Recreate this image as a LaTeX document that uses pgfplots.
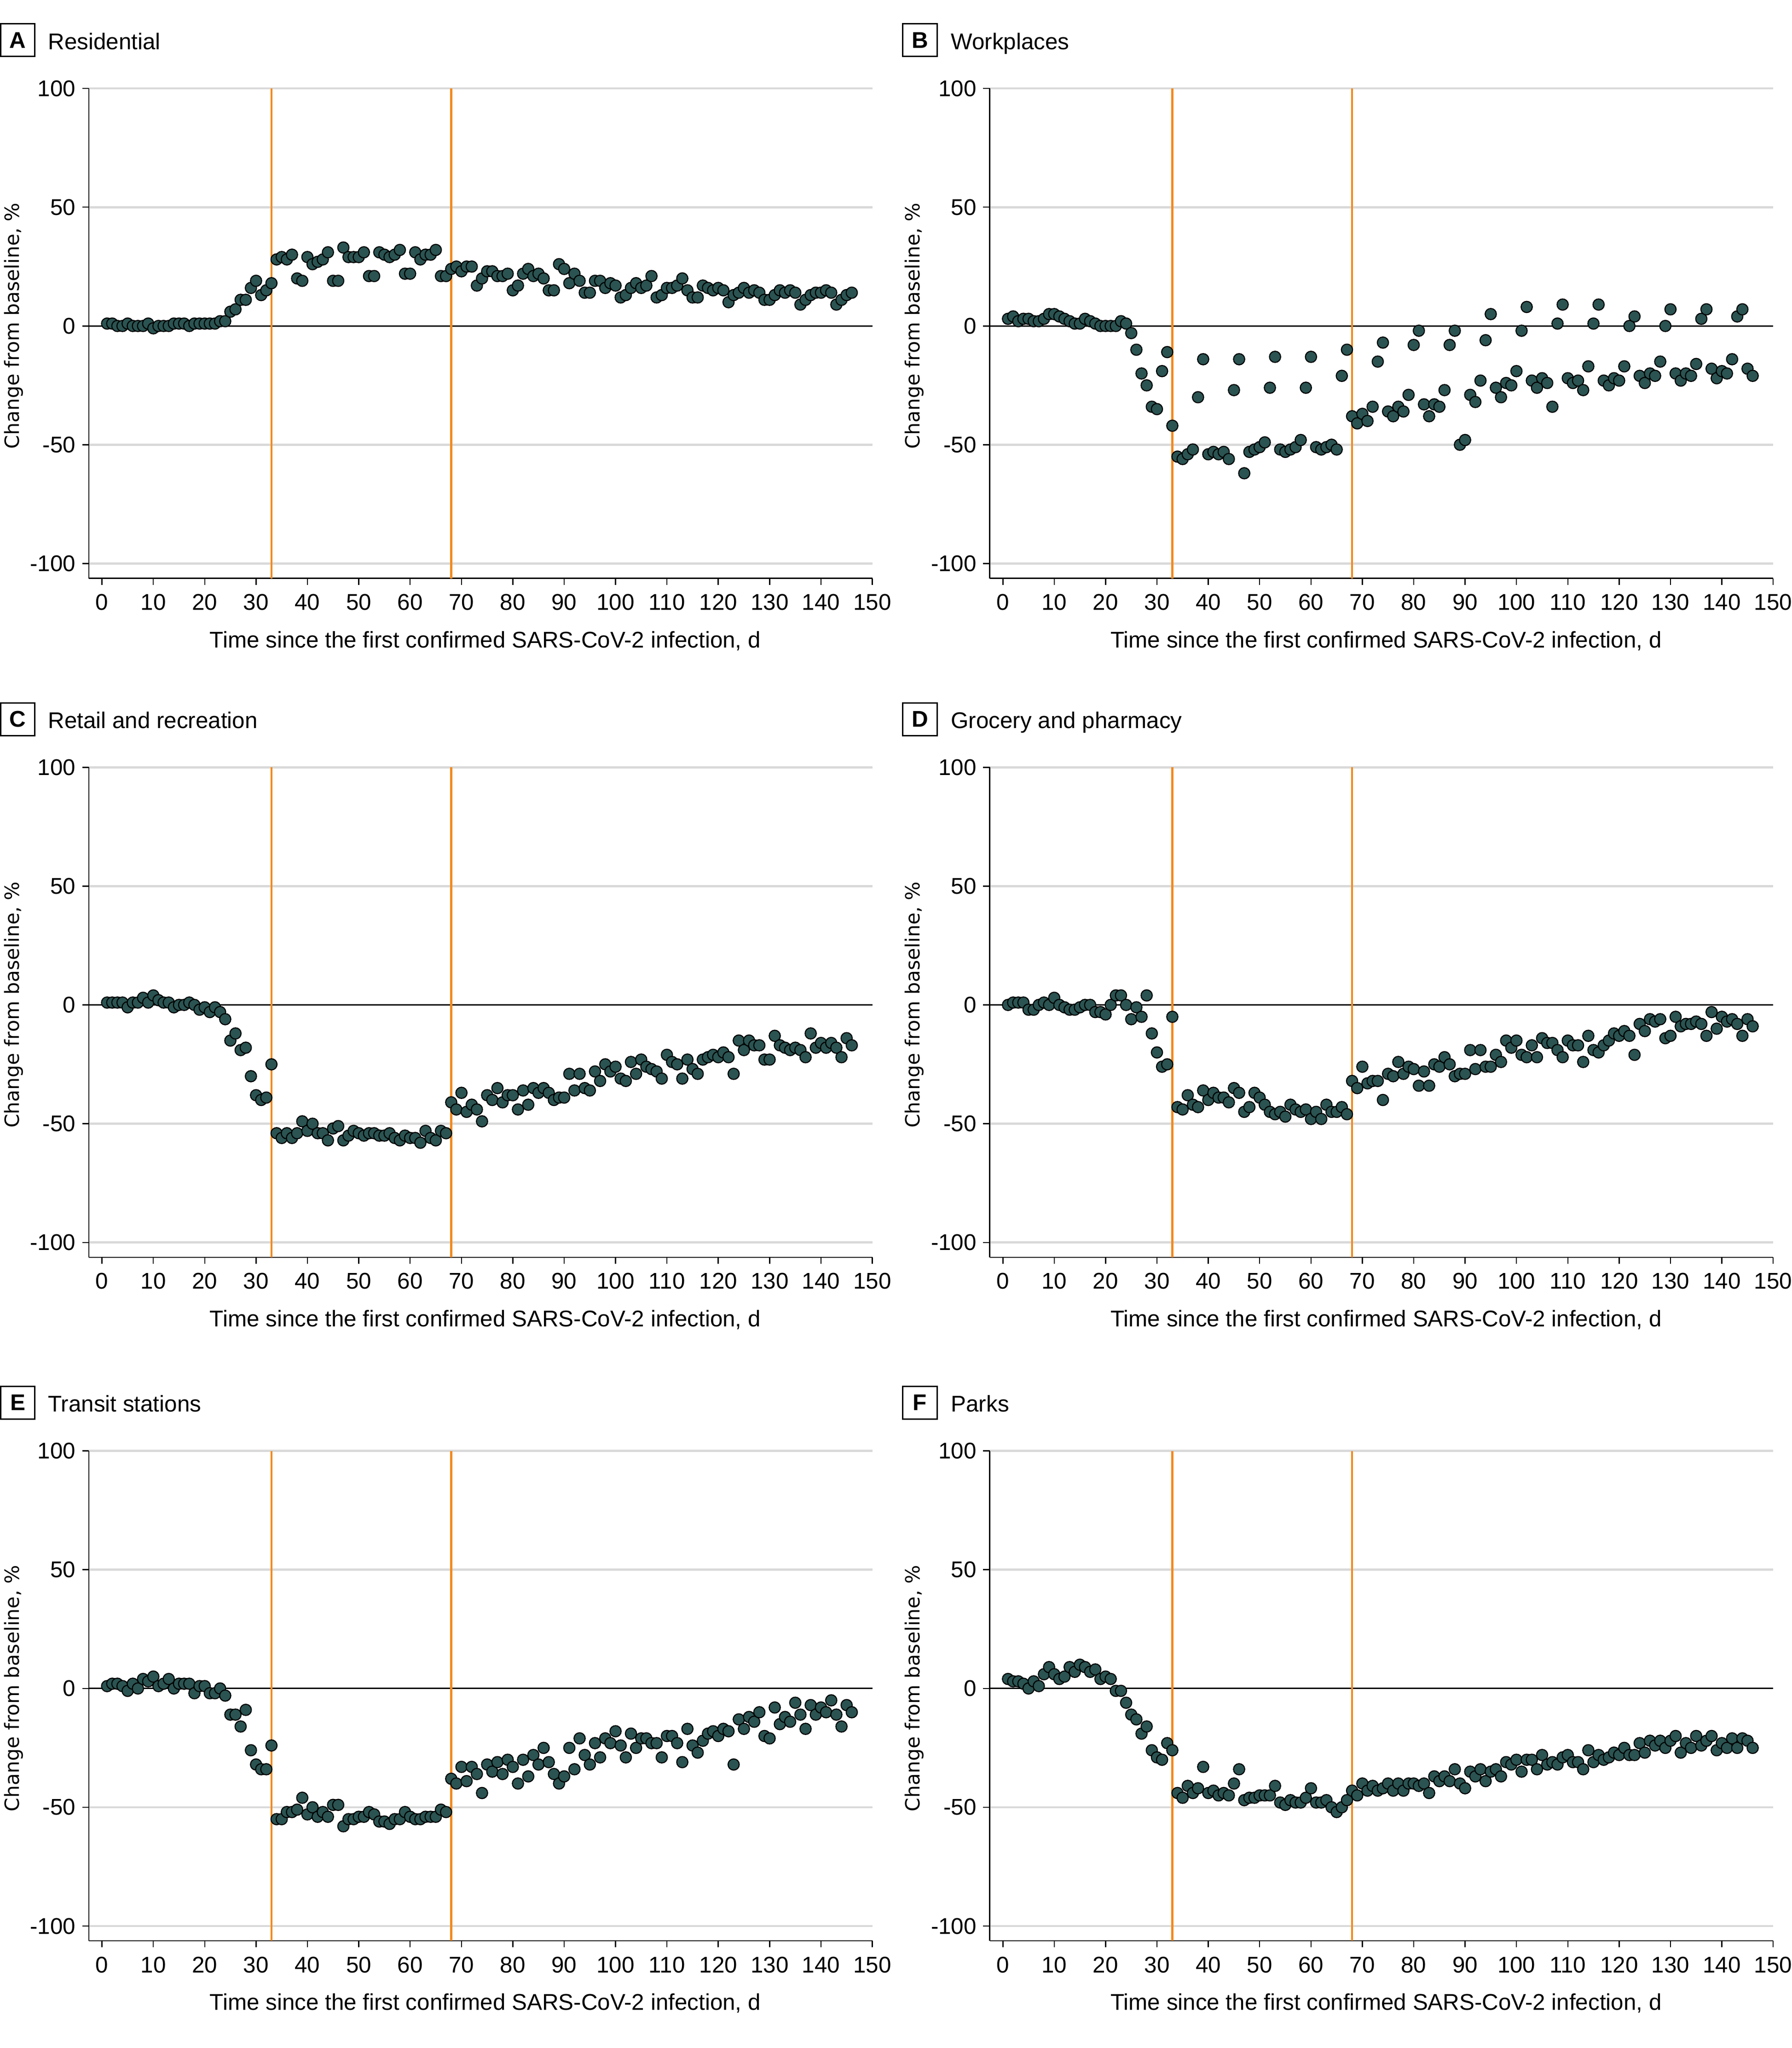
\documentclass[border=0pt]{standalone}
\usepackage{fontspec}
\setmainfont{Liberation Sans}
\newfontfamily\ylabfont{DejaVu Sans}
\usepackage{pgfplots}
\pgfplotsset{compat=1.18}
\definecolor{dot}{HTML}{2A5351}
\definecolor{lockdown}{HTML}{F28A1E}
\definecolor{gridgray}{HTML}{D9D9D9}
\newcommand{\lab}{\fontsize{8.7}{10}\selectfont}
\pgfplotsset{
  panel/.style={
    scale only axis, width=300.06pt, height=187.6pt, anchor=south west,
    xmin=-2.57, xmax=150, ymin=-106.2, ymax=100,
    axis lines*=left, axis line style={line width=0.45pt},
    tick align=outside, major tick length=2.5pt, tick style={black, line width=0.45pt},
    xtick={0,10,...,150},
    ytick={-100,-50,50,100}, yticklabels={-100,-50,50,100},
    extra y ticks={0}, extra y tick labels={0},
    ymajorgrids, major grid style={gridgray, line width=0.85pt},
    extra y tick style={major grid style={black, line width=0.5pt}},
    /pgf/number format/assume math mode=true,
    ticklabel style={font=\lab},
    xticklabel style={inner sep=0pt, anchor=north, yshift=-3.4pt},
    yticklabel style={inner sep=0pt, anchor=east, xshift=-2.35pt},
    xlabel={Time since the first confirmed SARS-CoV-2 infection, d},
    ylabel={Change from baseline, \%},
    xlabel style={font=\lab, at={(axis description cs:0.506,0)}, anchor=center, yshift=-24pt},
    ylabel style={font=\ylabfont\fontsize{7.5}{9}\selectfont, at={(axis description cs:-0.096,0.515)}, anchor=center},
  },
  dots/.style={only marks, mark=*, mark size=2.15pt, mark options={draw=none, fill=dot}},
  cut/.style={lockdown, line width=0.75pt, forget plot},
}
\newcommand{\cuts}{%
  \addplot[cut] coordinates {(33,-106.2) (33,100)};
  \addplot[cut] coordinates {(68,-106.2) (68,100)};}
\newcommand{\paneltitle}[2]{% centre of the letter box, letter
  \node[draw, line width=0.5pt, minimum width=13.1pt, minimum height=12.5pt, inner sep=0pt, font=\bfseries\lab] at (#1) {#2};}
\begin{document}
\begin{tikzpicture}
\path[use as bounding box] (0,0) rectangle (686.1pt,784.25pt);

% A Residential
\begin{axis}[panel, at={(34pt,562.8pt)}]
\addplot[dots] coordinates {(1,1)(2,1)(3,0)(4,0)(5,1)(6,0)(7,0)(8,0)(9,1)(10,-1)(11,0)(12,0)(13,0)(14,1)(15,1)(16,1)(17,0)(18,1)(19,1)(20,1)(21,1)(22,1)(23,2)(24,2)(25,6)(26,7)(27,11)(28,11)(29,16)(30,19)(31,13)(32,15)(33,18)(34,28)(35,29)(36,28)(37,30)(38,20)(39,19)(40,29)(41,26)(42,27)(43,28)(44,31)(45,19)(46,19)(47,33)(48,29)(49,29)(50,29)(51,31)(52,21)(53,21)(54,31)(55,30)(56,29)(57,30)(58,32)(59,22)(60,22)(61,31)(62,28)(63,30)(64,30)(65,32)(66,21)(67,21)(68,24)(69,25)(70,23)(71,25)(72,25)(73,17)(74,20)(75,23)(76,23)(77,21)(78,21)(79,22)(80,15)(81,17)(82,22)(83,24)(84,21)(85,22)(86,20)(87,15)(88,15)(89,26)(90,24)(91,18)(92,22)(93,19)(94,14)(95,14)(96,19)(97,19)(98,16)(99,18)(100,17)(101,12)(102,13)(103,16)(104,18)(105,16)(106,17)(107,21)(108,12)(109,13)(110,16)(111,16)(112,17)(113,20)(114,15)(115,12)(116,12)(117,17)(118,16)(119,15)(120,16)(121,15)(122,10)(123,13)(124,14)(125,16)(126,14)(127,15)(128,14)(129,11)(130,11)(131,13)(132,15)(133,14)(134,15)(135,14)(136,9)(137,11)(138,13)(139,14)(140,14)(141,15)(142,14)(143,9)(144,11)(145,13)(146,14)};
\cuts
\end{axis}

% B Workplaces
\begin{axis}[panel, at={(379pt,562.8pt)}]
\addplot[dots] coordinates {(1,3)(2,4)(3,2)(4,3)(5,3)(6,2)(7,2)(8,3)(9,5)(10,5)(11,4)(12,3)(13,2)(14,1)(15,1)(16,3)(17,2)(18,1)(19,0)(20,0)(21,0)(22,0)(23,2)(24,1)(25,-3)(26,-10)(27,-20)(28,-25)(29,-34)(30,-35)(31,-19)(32,-11)(33,-42)(34,-55)(35,-56)(36,-54)(37,-52)(38,-30)(39,-14)(40,-54)(41,-53)(42,-54)(43,-53)(44,-56)(45,-27)(46,-14)(47,-62)(48,-53)(49,-52)(50,-51)(51,-49)(52,-26)(53,-13)(54,-52)(55,-53)(56,-52)(57,-51)(58,-48)(59,-26)(60,-13)(61,-51)(62,-52)(63,-51)(64,-50)(65,-52)(66,-21)(67,-10)(68,-38)(69,-41)(70,-37)(71,-40)(72,-34)(73,-15)(74,-7)(75,-36)(76,-38)(77,-34)(78,-36)(79,-29)(80,-8)(81,-2)(82,-33)(83,-38)(84,-33)(85,-34)(86,-27)(87,-8)(88,-2)(89,-50)(90,-48)(91,-29)(92,-32)(93,-23)(94,-6)(95,5)(96,-26)(97,-30)(98,-24)(99,-25)(100,-19)(101,-2)(102,8)(103,-23)(104,-26)(105,-22)(106,-24)(107,-34)(108,1)(109,9)(110,-22)(111,-24)(112,-23)(113,-27)(114,-17)(115,1)(116,9)(117,-23)(118,-25)(119,-22)(120,-23)(121,-17)(122,0)(123,4)(124,-21)(125,-24)(126,-20)(127,-21)(128,-15)(129,0)(130,7)(131,-20)(132,-23)(133,-20)(134,-21)(135,-16)(136,3)(137,7)(138,-18)(139,-22)(140,-19)(141,-20)(142,-14)(143,4)(144,7)(145,-18)(146,-21)};
\cuts
\end{axis}

% C Retail and recreation
\begin{axis}[panel, at={(34pt,302.8pt)}]
\addplot[dots] coordinates {(1,1)(2,1)(3,1)(4,1)(5,-1)(6,1)(7,1)(8,3)(9,1)(10,4)(11,2)(12,1)(13,1)(14,-1)(15,0)(16,0)(17,1)(18,0)(19,-2)(20,-1)(21,-3)(22,-1)(23,-3)(24,-6)(25,-15)(26,-12)(27,-19)(28,-18)(29,-30)(30,-38)(31,-40)(32,-39)(33,-25)(34,-54)(35,-56)(36,-54)(37,-56)(38,-54)(39,-49)(40,-53)(41,-50)(42,-54)(43,-54)(44,-57)(45,-52)(46,-51)(47,-57)(48,-55)(49,-53)(50,-54)(51,-55)(52,-54)(53,-54)(54,-55)(55,-55)(56,-54)(57,-56)(58,-57)(59,-55)(60,-56)(61,-56)(62,-58)(63,-53)(64,-56)(65,-57)(66,-53)(67,-54)(68,-41)(69,-44)(70,-37)(71,-45)(72,-42)(73,-44)(74,-49)(75,-38)(76,-40)(77,-35)(78,-41)(79,-38)(80,-38)(81,-44)(82,-36)(83,-42)(84,-35)(85,-37)(86,-35)(87,-37)(88,-40)(89,-39)(90,-39)(91,-29)(92,-36)(93,-29)(94,-35)(95,-36)(96,-28)(97,-32)(98,-25)(99,-28)(100,-26)(101,-31)(102,-32)(103,-24)(104,-29)(105,-23)(106,-26)(107,-27)(108,-28)(109,-31)(110,-21)(111,-24)(112,-25)(113,-31)(114,-23)(115,-27)(116,-29)(117,-23)(118,-22)(119,-21)(120,-22)(121,-20)(122,-22)(123,-29)(124,-15)(125,-19)(126,-15)(127,-17)(128,-17)(129,-23)(130,-23)(131,-13)(132,-17)(133,-18)(134,-19)(135,-18)(136,-19)(137,-22)(138,-12)(139,-18)(140,-16)(141,-18)(142,-16)(143,-18)(144,-22)(145,-14)(146,-17)};
\cuts
\end{axis}

% D Grocery and pharmacy
\begin{axis}[panel, at={(379pt,302.8pt)}]
\addplot[dots] coordinates {(1,0)(2,1)(3,1)(4,1)(5,-2)(6,-2)(7,0)(8,1)(9,0)(10,3)(11,0)(12,-1)(13,-2)(14,-2)(15,-1)(16,0)(17,0)(18,-3)(19,-3)(20,-4)(21,0)(22,4)(23,4)(24,0)(25,-6)(26,-1)(27,-5)(28,4)(29,-12)(30,-20)(31,-26)(32,-25)(33,-5)(34,-43)(35,-44)(36,-38)(37,-42)(38,-43)(39,-36)(40,-40)(41,-37)(42,-39)(43,-39)(44,-41)(45,-35)(46,-37)(47,-45)(48,-43)(49,-37)(50,-39)(51,-42)(52,-45)(53,-46)(54,-45)(55,-47)(56,-42)(57,-44)(58,-45)(59,-44)(60,-48)(61,-45)(62,-48)(63,-42)(64,-45)(65,-45)(66,-43)(67,-46)(68,-32)(69,-35)(70,-26)(71,-33)(72,-32)(73,-32)(74,-40)(75,-29)(76,-30)(77,-24)(78,-29)(79,-26)(80,-27)(81,-34)(82,-28)(83,-34)(84,-25)(85,-26)(86,-22)(87,-25)(88,-30)(89,-29)(90,-29)(91,-19)(92,-27)(93,-19)(94,-26)(95,-26)(96,-21)(97,-24)(98,-15)(99,-18)(100,-15)(101,-21)(102,-22)(103,-17)(104,-22)(105,-14)(106,-16)(107,-16)(108,-19)(109,-22)(110,-15)(111,-17)(112,-17)(113,-24)(114,-13)(115,-19)(116,-20)(117,-17)(118,-15)(119,-12)(120,-13)(121,-11)(122,-13)(123,-21)(124,-8)(125,-11)(126,-6)(127,-7)(128,-6)(129,-14)(130,-13)(131,-5)(132,-9)(133,-8)(134,-8)(135,-7)(136,-8)(137,-13)(138,-3)(139,-10)(140,-5)(141,-7)(142,-6)(143,-8)(144,-13)(145,-6)(146,-9)};
\cuts
\end{axis}

% E Transit stations
\begin{axis}[panel, at={(34pt,41.05pt)}]
\addplot[dots] coordinates {(1,1)(2,2)(3,2)(4,1)(5,-1)(6,2)(7,0)(8,4)(9,3)(10,5)(11,1)(12,2)(13,4)(14,0)(15,2)(16,2)(17,2)(18,-2)(19,1)(20,1)(21,-2)(22,-2)(23,0)(24,-3)(25,-11)(26,-11)(27,-16)(28,-9)(29,-26)(30,-32)(31,-34)(32,-34)(33,-24)(34,-55)(35,-55)(36,-52)(37,-52)(38,-51)(39,-46)(40,-53)(41,-50)(42,-54)(43,-52)(44,-54)(45,-49)(46,-49)(47,-58)(48,-55)(49,-55)(50,-54)(51,-54)(52,-52)(53,-53)(54,-56)(55,-56)(56,-57)(57,-55)(58,-55)(59,-52)(60,-54)(61,-55)(62,-55)(63,-54)(64,-54)(65,-54)(66,-51)(67,-52)(68,-38)(69,-40)(70,-33)(71,-39)(72,-33)(73,-36)(74,-44)(75,-32)(76,-35)(77,-31)(78,-36)(79,-30)(80,-33)(81,-40)(82,-30)(83,-37)(84,-28)(85,-32)(86,-25)(87,-31)(88,-36)(89,-40)(90,-37)(91,-25)(92,-34)(93,-21)(94,-28)(95,-32)(96,-23)(97,-29)(98,-21)(99,-23)(100,-18)(101,-24)(102,-29)(103,-19)(104,-25)(105,-21)(106,-21)(107,-23)(108,-23)(109,-29)(110,-20)(111,-20)(112,-23)(113,-31)(114,-17)(115,-24)(116,-27)(117,-22)(118,-19)(119,-18)(120,-20)(121,-17)(122,-18)(123,-32)(124,-13)(125,-17)(126,-12)(127,-14)(128,-10)(129,-20)(130,-21)(131,-8)(132,-15)(133,-12)(134,-14)(135,-6)(136,-11)(137,-17)(138,-7)(139,-11)(140,-8)(141,-10)(142,-5)(143,-11)(144,-16)(145,-7)(146,-10)};
\cuts
\end{axis}

% F Parks
\begin{axis}[panel, at={(379pt,41.05pt)}]
\addplot[dots] coordinates {(1,4)(2,3)(3,3)(4,2)(5,0)(6,3)(7,1)(8,6)(9,9)(10,6)(11,4)(12,5)(13,9)(14,7)(15,10)(16,9)(17,7)(18,8)(19,4)(20,5)(21,4)(22,-1)(23,-1)(24,-6)(25,-11)(26,-13)(27,-19)(28,-16)(29,-26)(30,-29)(31,-30)(32,-23)(33,-26)(34,-44)(35,-46)(36,-41)(37,-44)(38,-42)(39,-33)(40,-44)(41,-43)(42,-45)(43,-44)(44,-45)(45,-40)(46,-34)(47,-47)(48,-46)(49,-46)(50,-45)(51,-45)(52,-45)(53,-41)(54,-48)(55,-49)(56,-47)(57,-48)(58,-48)(59,-46)(60,-42)(61,-48)(62,-48)(63,-47)(64,-50)(65,-52)(66,-50)(67,-47)(68,-43)(69,-45)(70,-40)(71,-43)(72,-41)(73,-43)(74,-42)(75,-40)(76,-43)(77,-40)(78,-43)(79,-40)(80,-40)(81,-41)(82,-40)(83,-44)(84,-37)(85,-39)(86,-37)(87,-39)(88,-34)(89,-40)(90,-42)(91,-35)(92,-37)(93,-34)(94,-39)(95,-35)(96,-34)(97,-37)(98,-31)(99,-32)(100,-30)(101,-35)(102,-30)(103,-30)(104,-34)(105,-28)(106,-32)(107,-31)(108,-32)(109,-29)(110,-28)(111,-31)(112,-31)(113,-34)(114,-26)(115,-31)(116,-28)(117,-30)(118,-29)(119,-27)(120,-28)(121,-25)(122,-28)(123,-28)(124,-23)(125,-27)(126,-22)(127,-24)(128,-22)(129,-25)(130,-22)(131,-20)(132,-27)(133,-23)(134,-25)(135,-20)(136,-24)(137,-22)(138,-20)(139,-26)(140,-23)(141,-25)(142,-21)(143,-25)(144,-21)(145,-22)(146,-25)};
\cuts
\end{axis}

% panel titles
\paneltitle{6.8pt,768.85pt}{A}
\paneltitle{352.3pt,768.85pt}{B}
\paneltitle{6.8pt,508.85pt}{C}
\paneltitle{352.3pt,508.85pt}{D}
\paneltitle{6.8pt,247.1pt}{E}
\paneltitle{352.3pt,247.1pt}{F}
\begin{scope}[every node/.style={anchor=base west, inner sep=0pt, font=\lab}]
\node at (18.2pt,765.35pt) {Residential};
\node at (364pt,765.35pt) {Workplaces};
\node at (18.2pt,505.35pt) {Retail and recreation};
\node at (364pt,505.35pt) {Grocery and pharmacy};
\node at (18.2pt,243.6pt) {Transit stations};
\node at (364pt,243.6pt) {Parks};
\end{scope}
\end{tikzpicture}
\end{document}
